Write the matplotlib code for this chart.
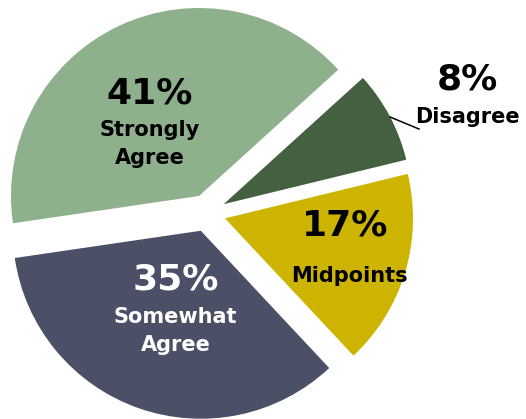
import matplotlib
matplotlib.use('Agg')
import matplotlib.pyplot as plt

# Survey response shares (percent)
categories = ['Strongly Agree', 'Somewhat Agree', 'Midpoints', 'Disagree']
shares = [41, 35, 17, 8]
label_lines = [['Strongly', 'Agree'], ['Somewhat', 'Agree'], ['Midpoints'], ['Disagree']]
colors = ['#8FB08C', '#4C5066', '#CDB400', '#456041']
text_colors = ['black', 'white', 'black', 'black']

W, H = 526, 419
R = 188
fig = plt.figure(figsize=(W / 100, H / 100), dpi=100)
ax = fig.add_axes([0, 0, 1, 1])

# Work in pixel units so placement is easy to reason about;
# pie's explode offset is in data units, so scale it by the radius
wedges, _ = ax.pie(shares, colors=colors, startangle=42.2, counterclock=True,
                   explode=[0.1 * R] * len(shares), radius=R, center=(207, H - 213),
                   wedgeprops=dict(linewidth=0))

ax.set_xlim(0, W)
ax.set_ylim(0, H)
ax.set_aspect('equal')
ax.axis('off')

# label anchors (x, y from top): percent line, then the name lines
pct_pos = [(150, 94), (176, 280), (345, 226), (467, 80)]
name_pos = [[(150, 130), (150, 158)], [(175, 317), (176, 345)], [(349, 276)], [(467, 117)]]

for i, share in enumerate(shares):
    x, y = pct_pos[i]
    ax.text(x, H - y, f'{share}%', ha='center', va='center', fontsize=26,
            fontweight='bold', color=text_colors[i])
    for line, (lx, ly) in zip(label_lines[i], name_pos[i]):
        ax.text(lx, H - ly, line, ha='center', va='center', fontsize=15,
                fontweight='bold', color=text_colors[i])

# leader line for the small slice
ax.plot([390, 419], [H - 117, H - 129], color='black', linewidth=1.1)

fig.savefig('out.png', dpi=100, facecolor='white')
